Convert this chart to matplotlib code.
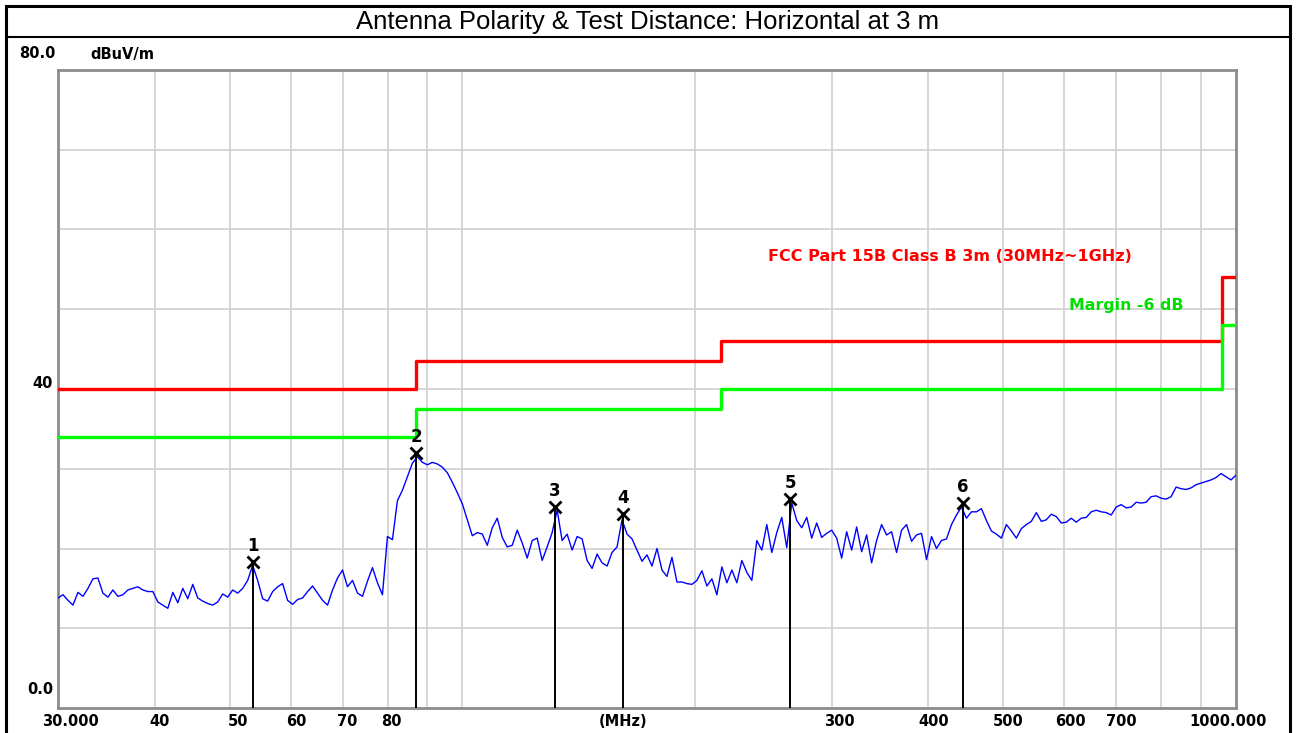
import numpy as np
import matplotlib
matplotlib.use("Agg")
import matplotlib.pyplot as plt
from matplotlib.patches import Rectangle
from matplotlib.lines import Line2D

# Messwerte (dBuV/m), Sweep von 30 MHz bis 1000 MHz
trace_level = [
    13.8, 14.2, 13.5, 12.9, 14.5, 14.0, 15.0, 16.2, 16.3, 14.4,
    13.9, 14.8, 14.0, 14.2, 14.8, 15.0, 15.2, 14.8, 14.6, 14.6,
    13.3, 12.9, 12.5, 14.5, 13.2, 15.0, 13.7, 15.5, 13.8, 13.4,
    13.1, 12.9, 13.3, 14.3, 13.9, 14.8, 14.4, 15.0, 16.0, 17.9,
    16.0, 13.7, 13.4, 14.6, 15.2, 15.6, 13.5, 13.0, 13.6, 13.8,
    14.6, 15.3, 14.4, 13.5, 12.9, 14.8, 16.3, 17.3, 15.2, 16.0,
    14.4, 14.0, 15.9, 17.6, 15.7, 14.2, 21.5, 21.1, 26.0, 27.3,
    29.0, 30.7, 31.5, 30.8, 30.5, 30.8, 30.6, 30.2, 29.5, 28.3,
    27.0, 25.6, 23.6, 21.6, 22.0, 21.8, 20.4, 22.6, 23.8, 21.4,
    20.2, 20.4, 22.3, 20.7, 18.8, 21.0, 21.3, 18.5, 20.2, 22.0,
    24.8, 21.0, 21.8, 19.8, 21.5, 21.2, 18.5, 17.5, 19.3, 18.2,
    17.8, 19.5, 20.2, 23.6, 21.8, 21.2, 19.8, 18.4, 19.2, 17.8,
    20.0, 17.3, 16.5, 18.9, 15.8, 15.8, 15.6, 15.5, 16.0, 17.2,
    15.3, 16.2, 14.2, 17.7, 15.7, 17.3, 15.7, 18.5, 17.0, 16.0,
    21.0, 19.8, 23.0, 19.5, 22.0, 23.9, 20.1, 25.7, 23.5, 22.6,
    23.9, 21.3, 23.2, 21.4, 21.9, 22.3, 21.3, 18.8, 22.1, 19.8,
    22.7, 19.6, 21.7, 18.2, 21.0, 23.0, 21.7, 22.1, 19.5, 22.3,
    23.0, 20.9, 21.7, 21.9, 18.6, 21.5, 20.0, 21.0, 21.2, 23.0,
    24.2, 25.2, 23.8, 24.6, 24.6, 25.0, 23.5, 22.2, 21.8, 21.3,
    23.0, 22.2, 21.3, 22.5, 23.0, 23.4, 24.5, 23.4, 23.6, 24.3,
    24.0, 23.2, 23.3, 23.8, 23.3, 23.8, 23.9, 24.6, 24.8, 24.6,
    24.5, 24.2, 25.2, 25.5, 25.1, 25.2, 25.8, 25.7, 25.8, 26.5,
    26.6, 26.3, 26.2, 26.5, 27.7, 27.5, 27.4, 27.6, 28.0, 28.2,
    28.4, 28.6, 28.9, 29.4, 29.0, 28.6, 29.2,
]
trace_freq = np.geomspace(30, 1000, len(trace_level))

# Grenzwert FCC Part 15B Class B 3m und Margin -6 dB (Stufen wie im Bild gezeichnet)
limit_freq = [30, 87.2, 87.2, 216, 216, 960, 960, 1000]
limit_level = [40.0, 40.0, 43.5, 43.5, 46.0, 46.0, 54.0, 54.0]
margin_level = [34.0, 34.0, 37.5, 37.5, 40.0, 40.0, 48.0, 48.0]

# Marker
marker_freq = [53.6, 87.1, 131.7, 161.3, 265.2, 443.7]
marker_level = [18.3, 32.0, 25.2, 24.3, 26.2, 25.7]

xtick_freq = [30, 40, 50, 60, 70, 80, 300, 400, 500, 600, 700, 1000]
xtick_text = ["30.000", "40", "50", "60", "70", "80", "300", "400", "500",
              "600", "700", "1000.000"]
xtick_shift = [12, 5, 8, 5, 5, 4, 8, 6, 5, 6, 5, -8]

fig = plt.figure(figsize=(12.96, 7.33), dpi=100)
W, H = 1296, 733

# Rahmen und Titelleiste
fig.add_artist(Rectangle((6 / W, -0.05), 1284 / W, 1.05 - 6 / H, transform=fig.transFigure,
                         fill=False, edgecolor="black", linewidth=2.2))
fig.add_artist(Line2D([6 / W, 1290 / W], [1 - 37 / H, 1 - 37 / H], transform=fig.transFigure,
                      color="black", linewidth=1.5))
fig.text(0.5, 1 - 22 / H, "Antenna Polarity & Test Distance: Horizontal at 3 m",
         ha="center", va="center", fontsize=18.5, family="Liberation Sans")

ax = fig.add_axes([58 / W, 25 / H, 1178 / W, 638 / H])
ax.set_xscale("log")
ax.set_xlim(30, 1000)
ax.set_ylim(0, 80)

grid_x = [40, 50, 60, 70, 80, 90, 100, 200, 300, 400, 500, 600, 700, 800, 900]
for gx in grid_x:
    ax.axvline(gx, color="#d0d0d0", linewidth=1.2, zorder=0)
for gy in range(10, 80, 10):
    ax.axhline(gy, color="#d0d0d0", linewidth=1.2, zorder=0)

ax.set_xticks([])
ax.set_yticks([])
ax.minorticks_off()
for side in ax.spines:
    ax.spines[side].set_color("#8c8c8c")
    ax.spines[side].set_linewidth(2)

ax.plot(limit_freq, limit_level, color="#ff0000", linewidth=2.4, zorder=3)
ax.plot(limit_freq, margin_level, color="#00ff00", linewidth=2.4, zorder=3)
ax.plot(trace_freq, trace_level, color="#0000ff", linewidth=1.0, zorder=4)

ax.vlines(marker_freq, 0, marker_level, color="black", linewidth=1.4, zorder=5)
ax.plot(marker_freq, marker_level, linestyle="none", marker="x", color="black",
        markersize=9, markeredgewidth=2, zorder=6)
for i, (mf, ml) in enumerate(zip(marker_freq, marker_level)):
    ax.annotate(str(i + 1), (mf, ml), xytext=(0, 16), textcoords="offset pixels",
                ha="center", va="center", fontsize=12, fontweight="bold", zorder=6)

ax.text(248, 56.6, "FCC Part 15B Class B 3m (30MHz~1GHz)", color="#ff0000",
        fontsize=11.5, fontweight="bold", va="center", ha="left")
ax.text(608, 50.5, "Margin -6 dB", color="#00e000",
        fontsize=11.3, fontweight="bold", va="center", ha="left")

# Achsbeschriftungen
lbl = dict(fontsize=10.5, fontweight="bold", textcoords="offset pixels",
           annotation_clip=False, va="center")
ax.annotate("80.0", (30, 80), xytext=(-3, 16), ha="right", **lbl)
ax.annotate("dBuV/m", (30, 80), xytext=(32, 16), ha="left", **lbl)
ax.annotate("40", (30, 40), xytext=(-5, 5), ha="right", **lbl)
ax.annotate("0.0", (30, 0), xytext=(-5, 18), ha="right", **lbl)
for f, t, s in zip(xtick_freq, xtick_text, xtick_shift):
    ax.annotate(t, (f, 0), xytext=(s, -14), ha="center", **lbl)
ax.annotate("(MHz)", (161.3, 0), xytext=(0, -14), ha="center", **lbl)

fig.savefig("out.png", dpi=100)
